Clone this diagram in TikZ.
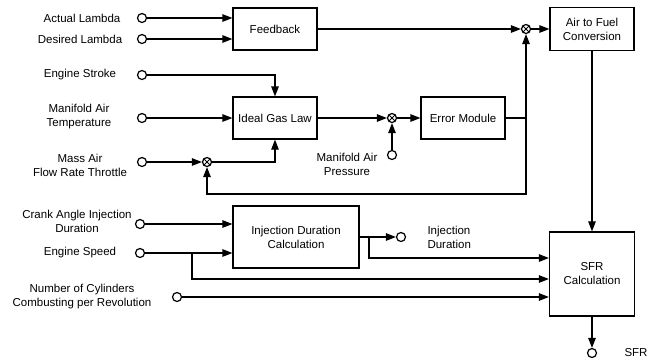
\documentclass[tikz,border=0pt]{standalone}
\usepackage{fontspec}
\setmainfont{Liberation Sans}
\usetikzlibrary{arrows.meta}

\tikzset{
  block/.style={draw, line width=1.2pt, align=center, inner sep=2pt},
  port/.style={circle, draw, fill=white, line width=1.2pt, inner sep=0pt, minimum size=9pt},
  summer/.style={circle, draw, fill=white, line width=1.2pt, inner sep=0pt, minimum size=9pt,
    path picture={\draw[line width=0.9pt]
      (path picture bounding box.south west) -- (path picture bounding box.north east)
      (path picture bounding box.north west) -- (path picture bounding box.south east);}},
  sig/.style={line width=1.2pt, -{Triangle[length=10pt,width=7.5pt]}},
  wire/.style={line width=1.2pt},
  lbl/.style={align=center}
}

\begin{document}
\begin{tikzpicture}[x=1pt,y=-1pt,font=\fontsize{11.5}{14}\selectfont]
  \useasboundingbox (0,0) rectangle (662,360);

  % blocks
  \node[block, minimum width=84pt, minimum height=42pt] (fb) at (275,29) {Feedback};
  \node[block, minimum width=84pt, minimum height=42pt] (gas) at (275,118) {Ideal Gas Law};
  \node[block, minimum width=84pt, minimum height=42pt] (err) at (463,118) {Error Module};
  \node[block, minimum width=84pt, minimum height=43pt] (air) at (592,29) {Air to Fuel\\Conversion};
  \node[block, minimum width=126pt, minimum height=62pt] (inj) at (296,237) {Injection Duration\\Calculation};
  \node[block, minimum width=85pt, minimum height=84pt] (sfr) at (592,274) {SFR\\Calculation};

  % summing junctions
  \node[summer] (sum1) at (526,29) {};
  \node[summer] (sum2) at (392,118) {};
  \node[summer] (sum3) at (207,162) {};

  % inputs and outputs
  \node[port] (lamA) at (142,18) {};
  \node[port] (lamD) at (142,39) {};
  \node[port] (stroke) at (142,75) {};
  \node[port] (temp) at (142,118) {};
  \node[port] (maf) at (142,162) {};
  \node[port] (map) at (392,155) {};
  \node[port] (crank) at (140,224) {};
  \node[port] (speed) at (140,253) {};
  \node[port] (ncyl) at (177,297) {};
  \node[port] (injout) at (401,237) {};
  \node[port] (sfrout) at (592,353) {};

  \node[lbl] (tlamA) at (82,18) {Actual Lambda};
  \node[lbl] (tlamD) at (80,39) {Desired Lambda};
  \node[lbl] (tstroke) at (80,75) {Engine Stroke};
  \node[lbl] (ttemp) at (79,117) {Manifold Air\\Temperature};
  \node[lbl] (tmaf) at (80,165) {Mass Air\\Flow Rate Throttle};
  \node[lbl] (tmap) at (347,164) {Manifold Air\\Pressure};
  \node[lbl] (tcrank) at (77,221) {Crank Angle Injection\\Duration};
  \node[lbl] (tspeed) at (80,253) {Engine Speed};
  \node[lbl] (tncyl) at (82,297) {Number of Cylinders\\Combusting per Revolution};
  \node[lbl, anchor=west, align=left] (tinj) at (424,237) {Injection\\Duration};
  \node[lbl] (tsfr) at (636,353) {SFR};

  % lambda feedback path
  \draw[sig] (lamA) -- (lamA -| fb.west);
  \draw[sig] (lamD) -- (lamD -| fb.west);
  \draw[sig] (fb) -- (sum1);
  \draw[sig] (sum1) -- (air);

  % air mass estimate
  \draw[sig] (stroke) -| (gas);
  \draw[sig] (temp) -- (gas);
  \draw[sig] (maf) -- (sum3);
  \draw[sig] (sum3) -| (gas);
  \draw[sig] (gas) -- (sum2);
  \draw[sig] (map) -- (sum2);
  \draw[sig] (sum2) -- (err);

  \coordinate (fbk) at (526,118);
  \coordinate (fbk2) at (526,194);
  \draw[wire] (err) -- (fbk);
  \draw[sig] (fbk) -- (sum1);
  \draw[sig] (fbk) -- (fbk2) -| (sum3);

  % fuel rate
  \draw[sig] (air) -- (sfr);
  \draw[sig] (sfr) -- (sfrout);

  \draw[sig] (crank) -- (crank -| inj.west);
  \draw[sig] (speed) -- (speed -| inj.west);
  \draw[sig] (inj) -- (injout);

  \coordinate (ijb) at (369,237);
  \coordinate (spd) at (192,253);
  \draw[sig] (ijb) |- ([yshift=16pt]sfr.west);
  \draw[sig] (spd) |- ([yshift=-5pt]sfr.west);
  \draw[sig] (ncyl) -- (ncyl -| sfr.west);

\end{tikzpicture}
\end{document}
